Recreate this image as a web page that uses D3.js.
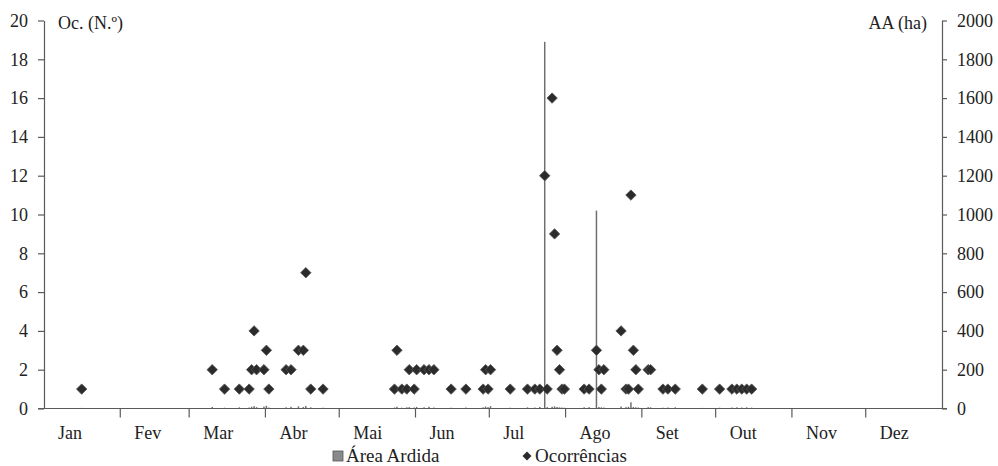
<!DOCTYPE html>
<html>
<head>
<meta charset="utf-8">
<script src="https://cdn.jsdelivr.net/npm/d3@7/dist/d3.min.js"></script>
<style>
    body { margin: 0; background: #ffffff; }
    #chart { width: 998px; height: 466px; }
</style>
</head>
<body>
<div id="chart"></div>
<script>
// meses e nº de dias
var months = ['Jan', 'Fev', 'Mar', 'Abr', 'Mai', 'Jun', 'Jul', 'Ago', 'Set', 'Out', 'Nov', 'Dez'];
var monthDays = [31, 28, 31, 30, 31, 30, 31, 31, 30, 31, 30, 31];
// dia do ano (0 = 1 Jan) e nº de ocorrências
var occDays = [15,
    68, 73, 79, 83, 84, 85, 86, 89, 90, 91,
    98, 100, 103, 105, 106, 108, 113,
    142, 143, 145, 147, 148, 150, 151, 154, 156, 158,
    165, 171, 178, 179, 180, 181, 189,
    196, 199, 201, 203, 204, 206, 207, 208, 209, 210, 211,
    219, 221, 224, 225, 226, 227,
    234, 236, 237, 238, 239, 240, 241, 245, 246, 251, 253, 256,
    267, 274, 279, 281, 283, 285, 287];
var occValues = [1,
    2, 1, 1, 1, 2, 4, 2, 2, 3, 1,
    2, 2, 3, 3, 7, 1, 1,
    1, 3, 1, 1, 2, 1, 2, 2, 2, 2,
    1, 1, 1, 2, 1, 2, 1,
    1, 1, 1, 12, 1, 16, 9, 3, 2, 1, 1,
    1, 1, 3, 2, 1, 2,
    4, 1, 1, 11, 3, 2, 1, 2, 2, 1, 1, 1,
    1, 1, 1, 1, 1, 1, 1];
// área ardida (ha) nos mesmos dias
var areaValues = [3,
    8, 4, 6, 5, 9, 12, 7, 10, 14, 5,
    6, 9, 11, 8, 13, 6, 4,
    5, 9, 4, 6, 7, 5, 8, 6, 9, 5,
    4, 5, 6, 10, 7, 12, 4,
    6, 5, 8, 1890, 7, 9, 11, 8, 6, 5, 4,
    6, 7, 1020, 8, 6, 5,
    10, 7, 9, 32, 8, 6, 5, 7, 6, 4, 5, 6,
    3, 4, 5, 6, 5, 6, 4];
var occTicks = [0, 2, 4, 6, 8, 10, 12, 14, 16, 18, 20];
var areaTicks = [0, 200, 400, 600, 800, 1000, 1200, 1400, 1600, 1800, 2000];

var FONT = '"Liberation Serif", "Times New Roman", Times, serif';
drawChart('chart');

function drawChart(divName) {
    var svgwidth = 998, svgheight = 466;
    var _margin = {top: 20.5, left: 44, right: 56, bottom: 57.5};
    var w = svgwidth - _margin.left - _margin.right;
    var h = svgheight - _margin.top - _margin.bottom;
    var axisColor = '#5a5a5a';

    var _svg = d3.select('#' + divName)
        .append('svg')
        .attr('width', svgwidth)
        .attr('height', svgheight)
        .attr('font-family', FONT);
    var g = _svg.append('g')
        .attr('transform', 'translate(' + _margin.left + ',' + _margin.top + ')');

    var nDays = d3.sum(monthDays);
    var x = d3.scaleBand().domain(d3.range(nDays)).range([0, w]).paddingInner(0.4);
    var xl = d3.scaleLinear().domain([0, nDays]).range([0, w]);
    var yOcc = d3.scaleLinear().domain([0, 20]).range([h, 0]);
    var yArea = d3.scaleLinear().domain([0, 2000]).range([h, 0]);

    // barras da área ardida
    var areaData = occDays.map(function (d, i) { return {day: d, v: areaValues[i]}; });
    g.append('g').selectAll('rect')
        .data(areaData)
        .enter()
        .append('rect')
        .attr('x', function (d) { return x(d.day); })
        .attr('width', x.bandwidth())
        .attr('y', function (d) { return yArea(d.v); })
        .attr('height', function (d) { return h - yArea(d.v); })
        .attr('fill', '#6e6e6e');

    // eixo esquerdo
    var axL = g.append('g')
        .call(d3.axisLeft(yOcc).tickValues(occTicks).tickSize(6).tickPadding(10).tickSizeOuter(0));
    // eixo direito
    var axR = g.append('g')
        .attr('transform', 'translate(' + w + ',0)')
        .call(d3.axisRight(yArea).tickValues(areaTicks).tickFormat(d3.format('d'))
            .tickSize(5).tickPadding(10).tickSizeOuter(0));
    [axL, axR].forEach(function (ax) {
        ax.attr('font-family', FONT).attr('font-size', 18);
        ax.selectAll('path, line').attr('stroke', axisColor).attr('stroke-width', 1.2);
        ax.selectAll('text').attr('fill', '#222');
    });

    // eixo x (meses)
    var starts = [0];
    monthDays.forEach(function (d, i) { starts.push(starts[i] + d); });
    g.append('line')
        .attr('x1', -6).attr('x2', w + 5)
        .attr('y1', h).attr('y2', h)
        .attr('stroke', axisColor).attr('stroke-width', 1.2);
    g.append('g').selectAll('line')
        .data(starts.slice(1, 12))
        .enter()
        .append('line')
        .attr('x1', function (d) { return xl(d); })
        .attr('x2', function (d) { return xl(d); })
        .attr('y1', h).attr('y2', h + 9)
        .attr('stroke', axisColor).attr('stroke-width', 1.2);
    g.append('g').selectAll('text')
        .data(months)
        .enter()
        .append('text')
        .attr('x', function (d, i) { return xl(starts[i]) + 14; })
        .attr('y', h + 30)
        .attr('font-size', 18)
        .attr('fill', '#222')
        .text(function (d) { return d; });

    // ocorrências
    var occData = occDays.map(function (d, i) { return {day: d, v: occValues[i]}; });
    var diamond = d3.symbol().type(d3.symbolSquare).size(54);
    g.append('g').selectAll('path')
        .data(occData)
        .enter()
        .append('path')
        .attr('d', diamond)
        .attr('transform', function (d) {
            return 'translate(' + (x(d.day) + x.bandwidth() / 2) + ',' + yOcc(d.v) + ') rotate(45)';
        })
        .attr('fill', '#2b2b2b')
        .attr('stroke', '#555')
        .attr('stroke-width', 0.8);

    // títulos dos eixos
    _svg.append('text')
        .attr('x', 58).attr('y', 29)
        .attr('font-size', 18).attr('fill', '#222')
        .text('Oc. (N.º)');
    _svg.append('text')
        .attr('x', 927).attr('y', 29)
        .attr('text-anchor', 'end')
        .attr('font-size', 18).attr('fill', '#222')
        .text('AA (ha)');

    // legenda
    var leg = _svg.append('g');
    leg.append('rect')
        .attr('x', 333).attr('y', 451).attr('width', 10).attr('height', 10)
        .attr('fill', '#8a8a8a').attr('stroke', '#555').attr('stroke-width', 0.8);
    leg.append('text')
        .attr('x', 346).attr('y', 462)
        .attr('font-size', 19).attr('fill', '#222')
        .text('Área Ardida');
    leg.append('path')
        .attr('d', d3.symbol().type(d3.symbolSquare).size(40))
        .attr('transform', 'translate(527,456) rotate(45)')
        .attr('fill', '#2b2b2b');
    leg.append('text')
        .attr('x', 535).attr('y', 462)
        .attr('font-size', 19).attr('fill', '#222')
        .text('Ocorrências');
}
</script>
</body>
</html>
